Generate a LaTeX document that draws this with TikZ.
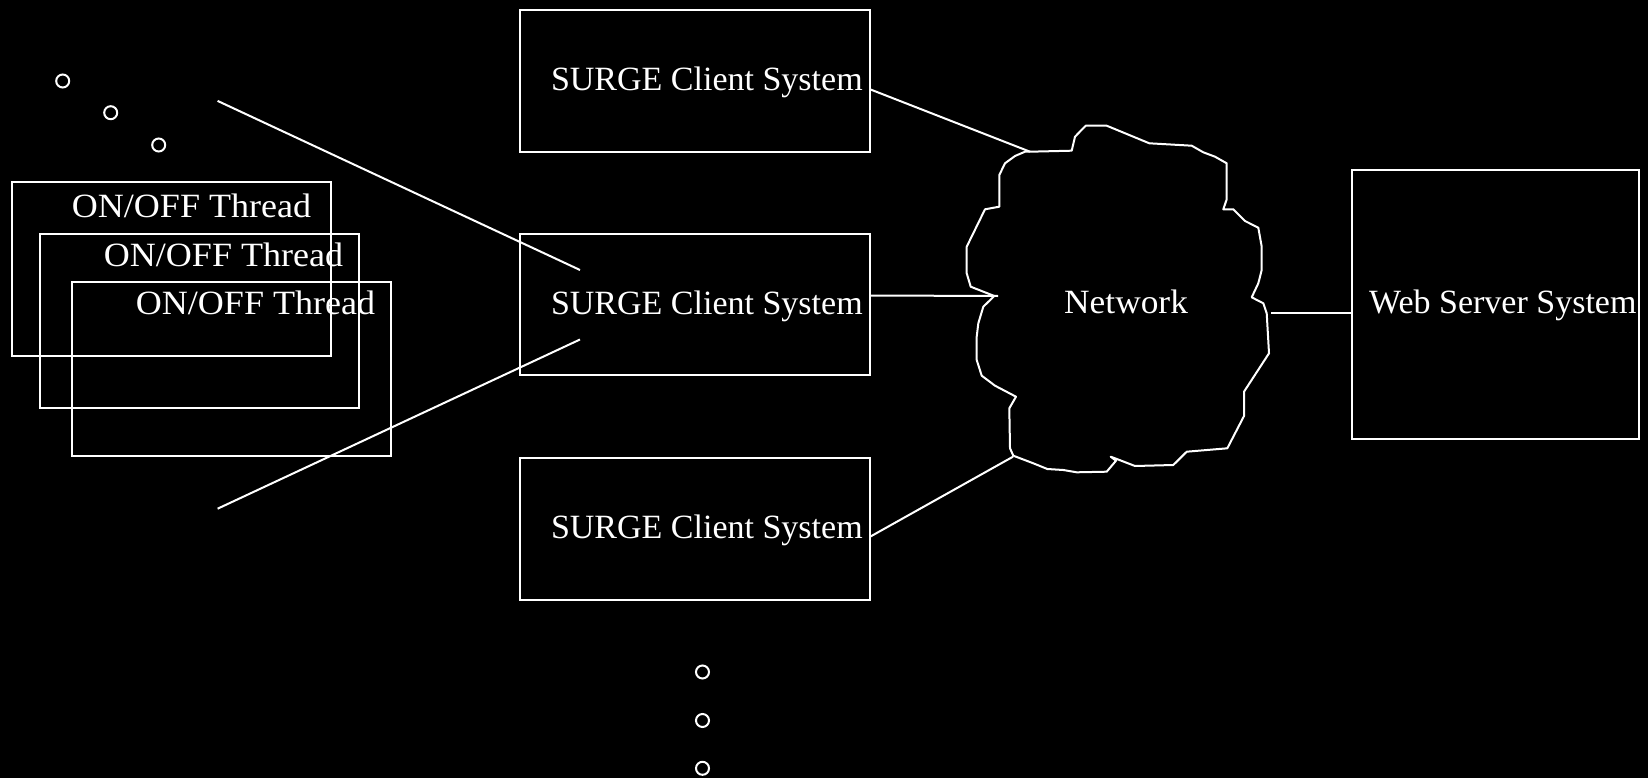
\documentclass[tikz,border=0pt]{standalone}
\usepackage{fontspec}
\usepackage{graphicx}
\setmainfont{Liberation Serif}
\begin{document}
\begin{tikzpicture}[x=1pt,y=-1pt,
  box/.style={draw=white, line width=2pt, inner sep=0pt, outer sep=0pt, anchor=north west},
  lbl/.style={text=white, inner sep=0pt, anchor=base west, font=\fontsize{34}{40}\selectfont},
  dot/.style={draw=white, circle, minimum size=13pt, inner sep=0pt, line width=2pt},
  wire/.style={draw=white, line width=2pt, line join=round}]
\fill[black] (0,0) rectangle (1648,778);
\useasboundingbox (0,0) rectangle (1648,778);

% ON/OFF thread boxes
\node[box, minimum width=318.7pt, minimum height=173.7pt] (t1) at (12.3,182.3) {};
\node[box, minimum width=319pt, minimum height=174.6pt] (t2) at (40,233.7) {};
\node[box, minimum width=318.7pt, minimum height=174.3pt] (t3) at (72,281.7) {};
\node[lbl] (t1l) at (71.7,217.7) {\scalebox{1.06}[1]{ON/OFF Thread}};
\node[lbl] (t2l) at (103.7,266) {\scalebox{1.06}[1]{ON/OFF Thread}};
\node[lbl] (t3l) at (135.7,314.3) {\scalebox{1.06}[1]{ON/OFF Thread}};

% dots
\node[dot] (d1) at (62.7,81) {};
\node[dot] (d2) at (110.7,112.7) {};
\node[dot] (d3) at (158.7,145) {};
\node[dot] (d4) at (702.5,672) {};
\node[dot] (d5) at (702.5,720.5) {};
\node[dot] (d6) at (702.5,768.3) {};

% client boxes
\node[box, minimum width=350pt, minimum height=142pt] (c1) at (520.3,10.5) {};
\node[box, minimum width=350pt, minimum height=141pt] (c2) at (520.3,234.4) {};
\node[box, minimum width=350pt, minimum height=142pt] (c3) at (520.3,458.3) {};
\node[lbl] (c1l) at (550.8,90.7) {SURGE Client System};
\node[lbl] (c2l) at (550.8,314.2) {SURGE Client System};
\node[lbl] (c3l) at (550.8,538.3) {SURGE Client System};

% web server
\node[box, minimum width=287pt, minimum height=268.5pt] (ws) at (1352,170.5) {};
\node[lbl] (wsl) at (1369,313.3) {Web Server System};

% cloud
\draw[wire] (1030,151.7) -- (1071.7,150.7) -- (1075,136.7) -- (1085.7,125.7) -- (1106.7,125.7)
 -- (1149.3,143.3) -- (1191.7,145.7) -- (1203.3,152.3) -- (1215,156.7) -- (1226.7,163.3)
 -- (1226.7,199.3) -- (1223.3,209.3) -- (1233.3,209.3) -- (1245,221) -- (1258.3,227.7)
 -- (1261.7,246.7) -- (1261.7,270) -- (1258.3,283.3) -- (1251.7,297.3) -- (1263.3,303.3)
 -- (1266.7,313.3) -- (1269,353.3) -- (1244,391.7) -- (1244,416) -- (1227.3,448.3)
 -- (1186.7,451.7) -- (1173.3,465) -- (1135,466) -- (1115,458.3) -- (1110.7,456.7)
 -- (1116,460.7) -- (1106.7,471.7) -- (1076.7,472.3) -- (1063.3,470) -- (1047.3,469)
 -- (1033.3,463.3) -- (1013.3,455.7) -- (1010,448.3) -- (1009.3,408.3) -- (1016,396.7)
 -- (995,385.7) -- (981.7,375.7) -- (976.7,360) -- (976.7,336.7) -- (978.3,323.3)
 -- (983.3,306.7) -- (994.3,296) -- (970.7,286.7) -- (966.7,273.3) -- (966.7,246.7)
 -- (985,209.3) -- (999.3,206.7) -- (999.3,175) -- (1005,163.3) -- (1015,156)
 -- (1025,151.7) -- cycle;
\node[lbl] (net) at (1064,313.3) {\scalebox{1.04}[1]{Network}};

% attachment points
\coordinate (n1) at (1030,151.7);
\coordinate (n2) at (998,296);
\coordinate (n3) at (1013,456.7);
\coordinate (n4) at (1271,312.7);
\coordinate (c1r) at (870.3,89.4);
\coordinate (c2r) at (870.3,295.5);
\coordinate (c3r) at (870.3,536.6);
\coordinate (wsw) at (1352,312.7);
\coordinate (la) at (217.6,100.9);
\coordinate (lb) at (580,270);
\coordinate (lc) at (580,339.5);
\coordinate (ld) at (217.6,508.7);

\draw[wire] (c1r) -- (n1);
\draw[wire] (c2r) -- (n2);
\draw[wire] (c3r) -- (n3);
\draw[wire] (n4) -- (wsw);
\draw[wire] (la) -- (lb);
\draw[wire] (lc) -- (ld);
\end{tikzpicture}
\end{document}
